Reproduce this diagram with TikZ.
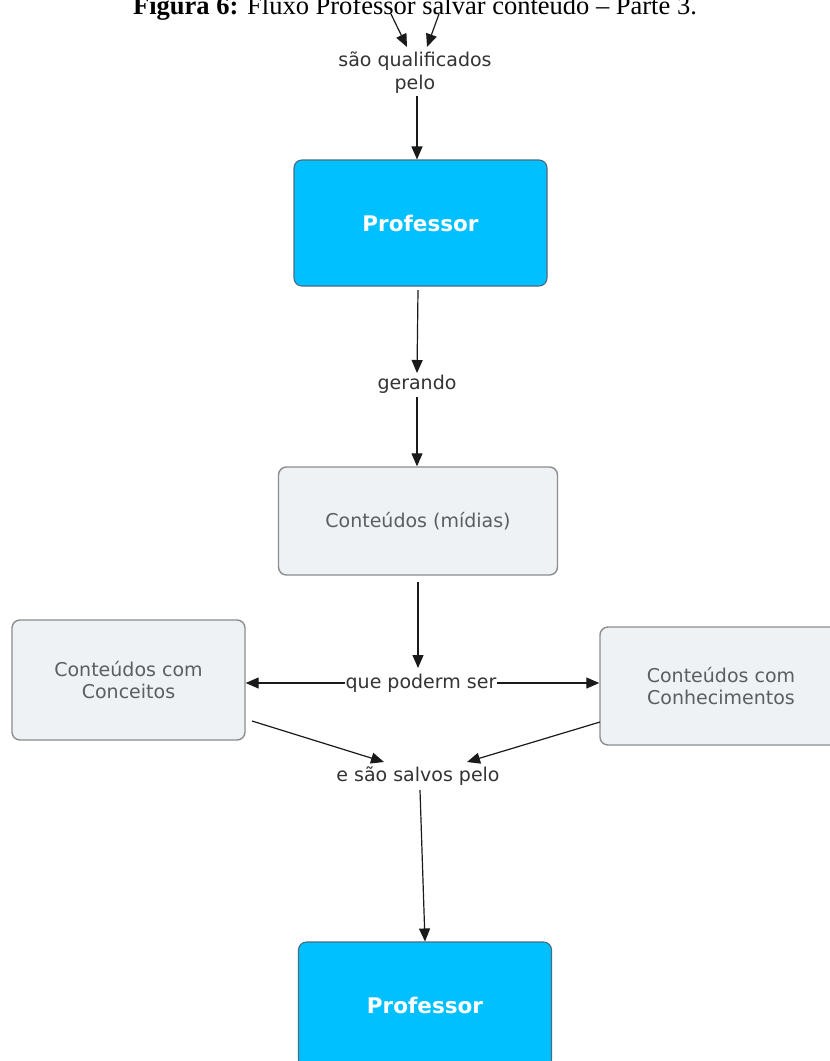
\documentclass[tikz,border=0pt]{standalone}
\usepackage{fontspec}
\setmainfont{Liberation Serif}
\newfontfamily\verd{DejaVu Sans}
\usetikzlibrary{arrows.meta}
\definecolor{cyanbox}{HTML}{00C0FF}
\definecolor{cyanline}{HTML}{4A6A80}
\definecolor{graybox}{HTML}{EEF2F5}
\definecolor{grayline}{HTML}{8A8E92}
\definecolor{labtext}{HTML}{333333}
\definecolor{boxtext}{HTML}{5A5E62}
\definecolor{arrcol}{HTML}{1A1A1A}
\tikzset{
  profbox/.style={rectangle, rounded corners=8pt, fill=cyanbox, draw=cyanline, line width=1.1pt,
    minimum width=253pt, minimum height=126pt, inner sep=0pt,
    font=\verd\bfseries\fontsize{21.5}{26}\selectfont, text=white},
  contbox/.style={rectangle, rounded corners=8pt, fill=graybox, draw=grayline, line width=1.4pt,
    inner sep=0pt, align=center, font=\verd\fontsize{19}{22}\selectfont, text=boxtext},
  lbl/.style={inner sep=1pt, align=center, font=\verd\fontsize{19}{23}\selectfont, text=labtext},
  arr/.style={draw=arrcol, line width=1.2pt, -{Triangle[length=13pt,width=11pt]}},
}
\begin{document}
\begin{tikzpicture}[x=1pt,y=-1pt]
\useasboundingbox (0,0) rectangle (830,1061);
\clip (0,0) rectangle (830,1061);
\fill[white] (0,0) rectangle (830,1061);
% caption
\node[anchor=base, inner sep=0pt, font=\fontsize{26.5}{30}\selectfont] (cap) at (415,14)
  {\textbf{Figura 6:} Fluxo Professor salvar conteúdo – Parte 3.};
% nodes
\node[lbl] (qual) at (415,73) {são qualificados\\pelo};
\node[profbox] (prof1) at (420.5,223) {Professor};
\node[lbl] (ger) at (417,384) {gerando};
\node[contbox, minimum width=279pt, minimum height=108pt] (cont) at (418,521) {Conteúdos (mídias)};
\node[lbl, inner sep=0pt] (pod) at (421,683) {que poderm ser};
\node[contbox, minimum width=233pt, minimum height=120pt] (conc) at (128.5,680) {Conteúdos com\\Conceitos};
\node[contbox, minimum width=242pt, minimum height=118pt] (conh) at (721,686) {Conteúdos com\\Conhecimentos};
\node[lbl] (salv) at (418,776) {e são salvos pelo};
\node[profbox] (prof2) at (425,1005) {Professor};
% coordinates
\coordinate (a1s) at (391,14);
\coordinate (a1e) at (407,47);
\coordinate (a2s) at (439,14);
\coordinate (a2e) at (427,47);
\coordinate (q1) at (417,96);
\coordinate (p1b) at (418,290);
\coordinate (g1) at (417,373);
\coordinate (g2) at (417,397);
\coordinate (c1b) at (418,582);
\coordinate (pt) at (418,668);
\coordinate (cl) at (252,721);
\coordinate (sl) at (384,762);
\coordinate (cr) at (600,722);
\coordinate (sr) at (467,762);
\coordinate (s1) at (420,790);
% connectors
\draw[arr] (a1s) -- (a1e);
\draw[arr] (a2s) -- (a2e);
\draw[arr] (q1) -- (q1 |- prof1.north);
\draw[arr] (p1b) -- (g1);
\draw[arr] (g2) -- (g2 |- cont.north);
\draw[arr] (c1b) -- (pt);
\draw[arr] (pod.west) -- (pod.west -| conc.east);
\draw[arr] (pod.east) -- (pod.east -| conh.west);
\draw[arr] (cl) -- (sl);
\draw[arr] (cr) -- (sr);
\draw[arr] (s1) -- (prof2.north);
\end{tikzpicture}
\end{document}
